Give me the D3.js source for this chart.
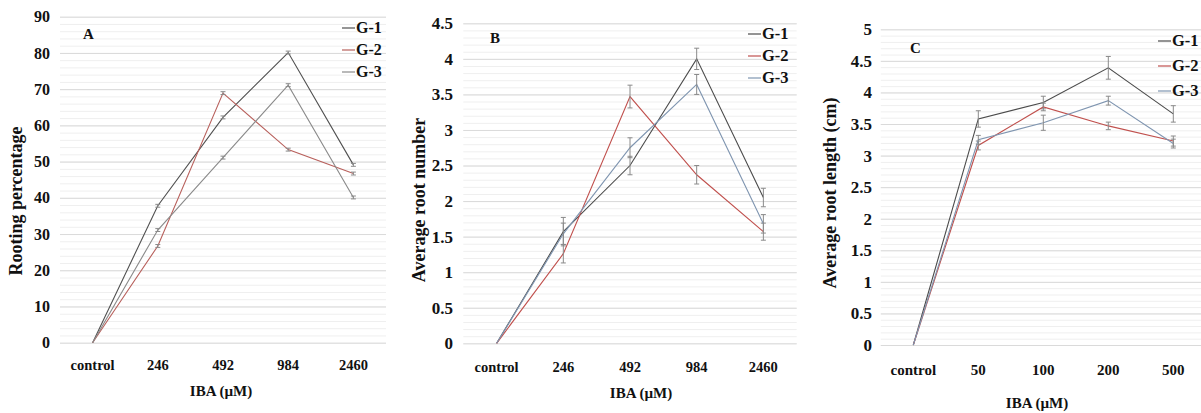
<!DOCTYPE html>
<html>
<head>
<meta charset="utf-8">
<script src="https://cdn.jsdelivr.net/npm/d3@7"></script>
<style>
  body { margin: 0; background: #fff; }
  svg { display: block; font-family: "Liberation Serif", "Times New Roman", serif; font-weight: bold; }
</style>
</head>
<body>
<svg id="chart" width="1201" height="413"></svg>
<script>
// series
const seriesNames = ["G-1", "G-2", "G-3"];
const seriesColorsA = ["#505050", "#b8605c", "#8a8a8a"];
const seriesColors = ["#4b4b4b", "#c0504d", "#7f95b0"];

// x categories
const catsAB = ["control", "246", "492", "984", "2460"];
const catsC = ["control", "50", "100", "200", "500"];

// A: rooting percentage
const rootingG1 = [0, 37.8, 62.2, 80.1, 49.1];
const rootingG2 = [0, 26.7, 68.9, 53.3, 46.7];
const rootingG3 = [0, 31.1, 51.1, 71.1, 40.1];
const rootingErr = [0, 0.4, 0.4, 0.4, 0.4];

// B: average root number
const numberG1 = [0, 1.57, 2.5, 4.0, 2.05];
const numberG2 = [0, 1.26, 3.47, 2.37, 1.57];
const numberG3 = [0, 1.54, 2.75, 3.64, 1.68];
const numberErrG1 = [0, 0.2, 0.13, 0.15, 0.13];
const numberErrG2 = [0, 0.13, 0.16, 0.13, 0.12];
const numberErrG3 = [0, 0.15, 0.14, 0.14, 0.13];

// C: average root length
const lengthG1 = [0, 3.58, 3.84, 4.39, 3.66];
const lengthG2 = [0, 3.16, 3.77, 3.47, 3.23];
const lengthG3 = [0, 3.25, 3.52, 3.87, 3.19];
const lengthErrG1 = [0, 0.13, 0.1, 0.18, 0.13];
const lengthErrG2 = [0, 0.07, 0.06, 0.06, 0.08];
const lengthErrG3 = [0, 0.07, 0.12, 0.07, 0.07];

const svg = d3.select("#chart");

const panels = [
  {
    label: "A", cats: catsAB, yTitle: "Rooting percentage", colors: seriesColorsA,
    series: [rootingG1, rootingG2, rootingG3], errs: [rootingErr, rootingErr, rootingErr],
    max: 90, step: 10, fmt: d3.format("d"),
    x0: 60, x1: 386, y0: 342.7, y1: 16.7,
    tickEnd: 50, tickSize: 16, catY: 370, catSize: 14.5,
    xTitleX: 221, xTitleY: 396, yTitleX: 22, yTitleY: 201,
    labelX: 83, labelY: 39, legX: 342, legY: 33, legStep: 22, legSize: 16
  },
  {
    label: "B", cats: catsAB, yTitle: "Average root number", colors: seriesColors,
    series: [numberG1, numberG2, numberG3], errs: [numberErrG1, numberErrG2, numberErrG3],
    max: 4.5, step: 0.5, fmt: d => String(d),
    x0: 463.3, x1: 796.7, y0: 343.3, y1: 23.3,
    tickEnd: 453, tickSize: 17, catY: 372, catSize: 14.5,
    xTitleX: 641, xTitleY: 398, yTitleX: 425, yTitleY: 200,
    labelX: 490, labelY: 43, legX: 748, legY: 39, legStep: 22, legSize: 16.5
  },
  {
    label: "C", cats: catsC, yTitle: "Average root length (cm)", colors: seriesColors,
    series: [lengthG1, lengthG2, lengthG3], errs: [lengthErrG1, lengthErrG2, lengthErrG3],
    max: 5, step: 0.5, fmt: d => String(d),
    x0: 880.8, x1: 1205.8, y0: 345, y1: 29.3,
    tickEnd: 872, tickSize: 17, catY: 375, catSize: 15,
    xTitleX: 1037, xTitleY: 408, yTitleX: 836, yTitleY: 193,
    labelX: 910, labelY: 53, legX: 1158, legY: 46, legStep: 25, legSize: 16.5
  }
];

panels.forEach(drawPanel);

function drawPanel(p) {
  const g = svg.append("g");

  const x = d3.scaleBand().domain(p.cats).range([p.x0, p.x1]);
  const y = d3.scaleLinear().domain([0, p.max]).range([p.y0, p.y1]);
  const cx = c => x(c) + x.bandwidth() / 2;

  // minor gridlines (5 per major step)
  const minor = d3.range(0, p.max + 1e-9, p.step / 5);
  g.append("g")
    .attr("transform", `translate(${p.x0},0)`)
    .call(d3.axisLeft(y).tickValues(minor).tickSize(-(p.x1 - p.x0)).tickFormat(""))
    .call(a => a.select(".domain").remove())
    .call(a => a.selectAll("line").attr("stroke", "#efefef"));

  // major gridlines + labels
  const major = d3.range(0, p.max + 1e-9, p.step);
  g.append("g")
    .attr("transform", `translate(${p.x0},0)`)
    .call(d3.axisLeft(y).tickValues(major).tickSize(-(p.x1 - p.x0)).tickPadding(p.x0 - p.tickEnd).tickFormat(p.fmt))
    .call(a => a.select(".domain").remove())
    .call(a => a.selectAll("line").attr("stroke", "#dadada"))
    .call(a => a.selectAll("text")
      .attr("fill", "#111")
      .style("font-family", "Liberation Serif")
      .style("font-weight", "bold")
      .style("font-size", p.tickSize + "px"));

  // category labels
  g.append("g")
    .selectAll("text")
    .data(p.cats)
    .join("text")
    .attr("x", cx)
    .attr("y", p.catY)
    .attr("text-anchor", "middle")
    .attr("fill", "#111")
    .style("font-size", p.catSize + "px")
    .text(d => d);

  // axis titles
  g.append("text")
    .attr("x", p.xTitleX).attr("y", p.xTitleY)
    .attr("text-anchor", "middle")
    .attr("fill", "#111")
    .style("font-size", "15px")
    .text("IBA (\u00B5M)");

  g.append("text")
    .attr("transform", `translate(${p.yTitleX},${p.yTitleY}) rotate(-90)`)
    .attr("text-anchor", "middle")
    .attr("fill", "#111")
    .style("font-size", "18px")
    .text(p.yTitle);

  g.append("text")
    .attr("x", p.labelX).attr("y", p.labelY)
    .attr("fill", "#111")
    .style("font-size", "15px")
    .text(p.label);

  const line = d3.line()
    .x((d, i) => cx(p.cats[i]))
    .y(d => y(d));

  p.series.forEach((vals, si) => {
    const col = p.colors[si];
    g.append("path")
      .datum(vals)
      .attr("fill", "none")
      .attr("stroke", col)
      .attr("stroke-width", 1.1)
      .attr("d", line);

    // error bars
    const eb = g.append("g").attr("stroke", "#8a8a8a").attr("stroke-width", 1);
    vals.forEach((v, i) => {
      const e = p.errs[si][i];
      if (!e) return;
      const xx = cx(p.cats[i]);
      eb.append("line").attr("x1", xx).attr("x2", xx).attr("y1", y(v - e)).attr("y2", y(v + e));
      eb.append("line").attr("x1", xx - 2.5).attr("x2", xx + 2.5).attr("y1", y(v - e)).attr("y2", y(v - e));
      eb.append("line").attr("x1", xx - 2.5).attr("x2", xx + 2.5).attr("y1", y(v + e)).attr("y2", y(v + e));
    });
  });

  // legend
  const leg = g.append("g");
  seriesNames.forEach((name, si) => {
    const ly = p.legY + si * p.legStep;
    leg.append("line")
      .attr("x1", p.legX).attr("x2", p.legX + 13)
      .attr("y1", ly - 5).attr("y2", ly - 5)
      .attr("stroke", p.colors[si]).attr("stroke-width", 1.2);
    leg.append("text")
      .attr("x", p.legX + 14).attr("y", ly)
      .attr("fill", "#111")
      .style("font-size", p.legSize + "px")
      .text(name);
  });
}
</script>
</body>
</html>
